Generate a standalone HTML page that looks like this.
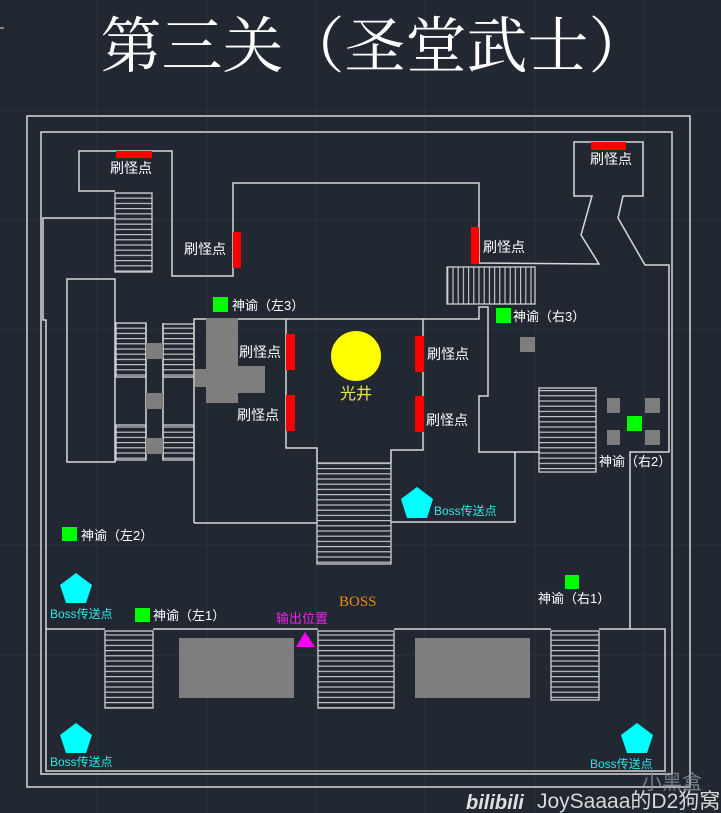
<!DOCTYPE html>
<html><head><meta charset="utf-8">
<style>
html,body{margin:0;padding:0;background:#222832;}
svg{display:block}
text{font-family:"Liberation Sans","Noto Sans CJK SC",sans-serif;}
</style></head>
<body>
<svg width="721" height="813" viewBox="0 0 721 813" xmlns="http://www.w3.org/2000/svg">
<defs>
<pattern id="hs" patternUnits="userSpaceOnUse" width="10" height="5.2"><line x1="0" y1="0.6" x2="10" y2="0.6" stroke="#d0d0d0" stroke-width="1.1"/></pattern>
<pattern id="vs" patternUnits="userSpaceOnUse" width="5.2" height="10"><line x1="0.6" y1="0" x2="0.6" y2="10" stroke="#d0d0d0" stroke-width="1.1"/></pattern>
</defs>
<rect width="721" height="813" fill="#222832"/>
<g stroke="#2c323d" stroke-width="1">
<line x1="0" y1="110" x2="721" y2="110"/><line x1="0" y1="220" x2="721" y2="220"/><line x1="0" y1="330" x2="721" y2="330"/><line x1="0" y1="545" x2="721" y2="545"/><line x1="0" y1="655" x2="721" y2="655"/>
<line x1="97" y1="0" x2="97" y2="813"/><line x1="207" y1="0" x2="207" y2="813"/><line x1="316" y1="0" x2="316" y2="813"/><line x1="425" y1="0" x2="425" y2="813"/><line x1="535" y1="0" x2="535" y2="813"/><line x1="644" y1="0" x2="644" y2="813"/>
</g>
<line x1="0" y1="28" x2="4" y2="28" stroke="#ddd" stroke-width="1"/>

<text x="375" y="67" font-size="61" fill="#ffffff" text-anchor="middle" style='font-family:"Noto Serif CJK SC","Liberation Serif",serif'>第三关（圣堂武士）</text>

<g fill="none" stroke="#d8d8d8" stroke-width="1.5">
<rect x="27" y="116" width="663" height="671"/>
<rect x="41" y="132" width="631" height="642"/>
<polyline points="115,218 43,218 43,320 46,320 46,629 105,629"/>
<polyline points="115,191 79,191 79,151 172,151 172,276 233,276 233,183 479,183 479,263 599,264 581,235 592,196 574,196 574,142 643,142 643,196 623,196 618,218 645,265 669,265 669,452 630,452 630,629 665,629 665,771 46,771 46,629"/>
<rect x="67" y="279" width="48" height="183"/>
<line x1="146" y1="323" x2="146" y2="460"/>
<line x1="163" y1="323" x2="163" y2="460"/>
<polyline points="194,523 194,319 479,319 479,307 488,307 488,396 479,396 479,452 540,452"/>
<polyline points="515,452 515,522 391,522"/>
<polyline points="286,319 286,448 317,448 317,463"/>
<polyline points="423,319 423,450 391,450 391,463"/>
<line x1="194" y1="523" x2="317" y2="523"/>
<line x1="153" y1="629" x2="318" y2="629"/>
<line x1="394" y1="629" x2="551" y2="629"/>
<line x1="599" y1="629" x2="630" y2="629"/>
</g>

<g stroke="#d0d0d0" stroke-width="1.3">
<rect x="115" y="193" width="37" height="79" fill="url(#hs)"/>
<rect x="116" y="323" width="30" height="54" fill="url(#hs)"/>
<rect x="163" y="324" width="31" height="53" fill="url(#hs)"/>
<rect x="116" y="425" width="30" height="35" fill="url(#hs)"/>
<rect x="163" y="425" width="31" height="35" fill="url(#hs)"/>
<rect x="447" y="267" width="88" height="37" fill="url(#vs)"/>
<rect x="317" y="463" width="74" height="101" fill="url(#hs)"/>
<rect x="539" y="388" width="57" height="84" fill="url(#hs)"/>
<rect x="105" y="631" width="48" height="77" fill="url(#hs)"/>
<rect x="318" y="631" width="76" height="77" fill="url(#hs)"/>
<rect x="551" y="631" width="48" height="69" fill="url(#hs)"/>
</g>

<g fill="#7e7e7e">
<rect x="206" y="318" width="32" height="85"/>
<rect x="238" y="366" width="27" height="27"/>
<rect x="195" y="369" width="11" height="18"/>
<rect x="146" y="343" width="17" height="16"/>
<rect x="146" y="393" width="17" height="16"/>
<rect x="146" y="438" width="17" height="16"/>
<rect x="520" y="337" width="15" height="15"/>
<rect x="607" y="398" width="13" height="15"/>
<rect x="645" y="398" width="15" height="15"/>
<rect x="607" y="430" width="13" height="15"/>
<rect x="645" y="430" width="15" height="15"/>
<rect x="179" y="638" width="115" height="60"/>
<rect x="415" y="638" width="115" height="60"/>
</g>

<g fill="#ff0000">
<rect x="116" y="151" width="36" height="7"/>
<rect x="591" y="142" width="35" height="8"/>
<rect x="233" y="232" width="8" height="36"/>
<rect x="471" y="227" width="8" height="37"/>
<rect x="286" y="334" width="9" height="36"/>
<rect x="286" y="395" width="9" height="36"/>
<rect x="415" y="336" width="9" height="36"/>
<rect x="415" y="396" width="9" height="36"/>
</g>

<g fill="#ffffff" font-size="14">
<text x="110" y="173">刷怪点</text>
<text x="590" y="164">刷怪点</text>
<text x="184" y="254">刷怪点</text>
<text x="483" y="252">刷怪点</text>
<text x="239" y="357">刷怪点</text>
<text x="237" y="420">刷怪点</text>
<text x="427" y="359">刷怪点</text>
<text x="426" y="425">刷怪点</text>
<text x="232" y="310" font-size="13">神谕（左3）</text>
<text x="513" y="321" font-size="13">神谕（右3）</text>
<text x="599" y="466" font-size="13">神谕（右2）</text>
<text x="81" y="540" font-size="13">神谕（左2）</text>
<text x="153" y="620" font-size="13">神谕（左1）</text>
<text x="538" y="603" font-size="13">神谕（右1）</text>
</g>

<g fill="#00ff00">
<rect x="213" y="297" width="15" height="15"/>
<rect x="496" y="308" width="15" height="15"/>
<rect x="627" y="416" width="15" height="15"/>
<rect x="62" y="527" width="15" height="14"/>
<rect x="135" y="608" width="15" height="14"/>
<rect x="565" y="575" width="14" height="14"/>
</g>

<circle cx="356" cy="356" r="25" fill="#ffff00"/>
<text x="356" y="399" font-size="16" fill="#e8e84a" text-anchor="middle">光井</text>

<g fill="#00ffff">
<polygon points="417,487 433,499 427,518 407,518 401,499"/>
<polygon points="76,573 92,585 86,603 66,603 60,585"/>
<polygon points="76,723 92,735 86,753 66,753 60,735"/>
<polygon points="637,723 653,735 647,753 627,753 621,735"/>
</g>
<g fill="#33e6e6" font-size="12">
<text x="434" y="515">Boss传送点</text>
<text x="50" y="618">Boss传送点</text>
<text x="50" y="766">Boss传送点</text>
<text x="590" y="768">Boss传送点</text>
</g>

<text x="339" y="606" font-size="15" fill="#e88a1a" style='font-family:"Liberation Serif",serif'>BOSS</text>
<text x="276" y="623" font-size="13" fill="#ee22ee">输出位置</text>
<polygon points="305,632 315,647 296,647" fill="#ff00ff"/>

<text x="642" y="789" font-size="20" fill="#8a9099" opacity="0.8">小黑盒</text>
<text x="466" y="809" font-size="20" fill="#e0e0e0" font-weight="bold" font-style="italic">bilibili</text>
<text x="537" y="808" font-size="21" fill="#d8d8d8">JoySaaaa的D2狗窝</text>
</svg>
</body></html>
